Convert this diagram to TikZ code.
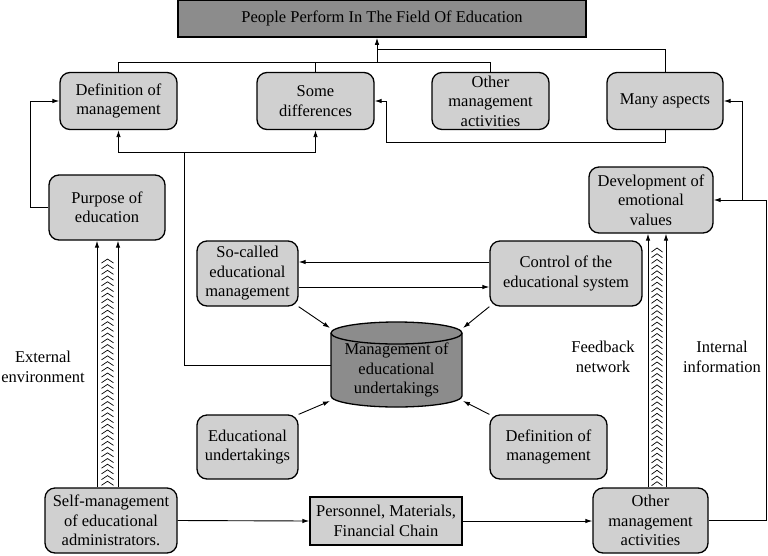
\documentclass[tikz,border=0pt]{standalone}
\usepackage{fontspec}
\setmainfont{Liberation Serif}
\usetikzlibrary{arrows.meta}
\definecolor{lightbox}{RGB}{208,208,208}
\definecolor{darkbox}{RGB}{140,140,140}
\begin{document}
\begin{tikzpicture}[x=1pt,y=-1pt,
  every node/.style={font=\fontsize{16.5}{19.5}\selectfont, align=center, inner sep=1pt},
  rbox/.style={draw=black, line width=1.3pt, fill=lightbox, rounded corners=10pt},
  sbox/.style={draw=black, line width=1.3pt, fill=lightbox},
  arr/.style={line width=0.9pt, -{Latex[length=7pt,width=4.5pt]}},
  ln/.style={line width=0.9pt},
  chev/.style={line width=0.7pt}]
\useasboundingbox (0,0) rectangle (768,555);

% nodes
\node[draw=black, line width=1.6pt, fill=darkbox, minimum width=408pt, minimum height=37pt] (top) at (382,18.5) {People Perform In The Field Of Education};
\node[rbox, minimum width=117pt, minimum height=57pt] (defA) at (118.5,101) {Definition of\\management};
\node[rbox, minimum width=117pt, minimum height=57pt] (diff) at (315.5,101) {Some\\differences};
\node[rbox, minimum width=117pt, minimum height=57pt] (otherA) at (490.5,101) {Other\\management\\activities};
\node[rbox, minimum width=116pt, minimum height=57pt] (many) at (665,101) {Many aspects};
\node[rbox, minimum width=116pt, minimum height=65pt] (purpose) at (107,207.5) {Purpose of\\education};
\node[rbox, minimum width=124pt, minimum height=66pt] (devel) at (651,200) {Development of\\emotional\\values};
\node[rbox, minimum width=101pt, minimum height=65pt] (socalled) at (247.5,273.5) {So-called\\educational\\management};
\node[rbox, minimum width=152pt, minimum height=65pt] (control) at (566,273.5) {Control of the\\educational system};
\node[rbox, minimum width=101pt, minimum height=64pt] (eduu) at (247.5,447) {Educational\\undertakings};
\node[rbox, minimum width=117pt, minimum height=64pt] (defB) at (548.5,447) {Definition of\\management};
\node[rbox, minimum width=132pt, minimum height=65pt] (self) at (111,520.5) {Self-management\\of educational\\administrators.};
\node[sbox, minimum width=152pt, minimum height=48pt] (pers) at (386,521) {Personnel, Materials,\\Financial Chain};
\node[rbox, minimum width=115pt, minimum height=65pt] (otherB) at (650.5,520.5) {Other\\management\\activities};

% cylinder
\fill[darkbox] (331,333) -- (331,396) arc[start angle=180,end angle=360,x radius=65.5pt,y radius=11pt] -- (462,333) arc[start angle=0,end angle=180,x radius=65.5pt,y radius=11pt] -- cycle;
\draw[line width=1.3pt] (331,333) -- (331,396) arc[start angle=180,end angle=360,x radius=65.5pt,y radius=11pt] -- (462,333) arc[start angle=0,end angle=180,x radius=65.5pt,y radius=11pt] -- cycle;
\draw[line width=1.3pt] (331,333) arc[start angle=180,end angle=360,x radius=65.5pt,y radius=11pt];
\node[minimum width=131pt, minimum height=60pt] (cyl) at (396.5,370) {Management of\\educational\\undertakings};
\coordinate (cNW) at (330,328);
\coordinate (cNE) at (463,328);
\coordinate (cSW) at (330,401);
\coordinate (cSE) at (463,401);
\coordinate (cW) at (331,365);

% labels
\node (ext) at (43,367) {External\\environment};
\node (feed) at (603,357) {Feedback\\network};
\node (intl) at (722,357) {Internal\\information};

% top tree
\coordinate (j1) at (377,62);
\coordinate (j2) at (377,49);
\draw[arr] (j1) -- (j1 |- top.south);
\draw[ln] (defA.north) |- (otherA.north |- j1) -- (otherA.north);
\draw[ln] (diff.north) -- (diff.north |- j1);
\draw[ln] (many.north) |- (j2) -- (j1);

% many aspects -> some differences
\draw[arr] (many.south) |- (386,142) |- (diff.east);

% cylinder left -> definition / differences
\coordinate (jL) at (184,152);
\draw[arr] (cW) -| (jL) -| (defA.south);
\draw[arr] (jL) -| (diff.south);

% purpose -> definition
\draw[arr] (purpose.west) -- (30,207.5) |- (defA.west);

% double arrows left
\coordinate (l1) at (97,0);
\coordinate (l2) at (118,0);
\draw[arr] (self.north -| l1) -- (purpose.south -| l1);
\draw[arr] (self.north -| l2) -- (purpose.south -| l2);
\foreach \i in {0,...,39} {
  \pgfmathsetmacro\yy{259+5.7*\i}
  \draw[chev] (101.5,\yy+4) -- (107.5,\yy) -- (113.5,\yy+4);
}
% double arrows right
\coordinate (r1) at (648,0);
\coordinate (r2) at (666,0);
\draw[arr] (otherB.north -| r1) -- (devel.south -| r1);
\draw[arr] (otherB.north -| r2) -- (devel.south -| r2);
\foreach \i in {0,...,41} {
  \pgfmathsetmacro\yy{248+5.7*\i}
  \draw[chev] (651.5,\yy+4) -- (657,\yy) -- (662.5,\yy+4);
}

% middle arrows
\draw[arr] (control.west |- 0,262) -- (socalled.east |- 0,262);
\draw[arr] (socalled.east |- 0,287) -- (control.west |- 0,287);
\draw[arr] (socalled.south east) -- (cNW);
\draw[arr] (control.south west) -- (cNE);
\draw[arr] (eduu.north east) -- (cSW);
\draw[arr] (defB.north west) -- (cSE);

% bottom
\draw[arr] (self.east) -- (pers.west);
\draw[arr] (pers.east) -- (otherB.west |- pers.east);
\draw[arr] (otherB.east) -- (766,520.5) |- (devel.east);
\draw[arr] (742,200) |- (many.east);
\end{tikzpicture}
\end{document}
